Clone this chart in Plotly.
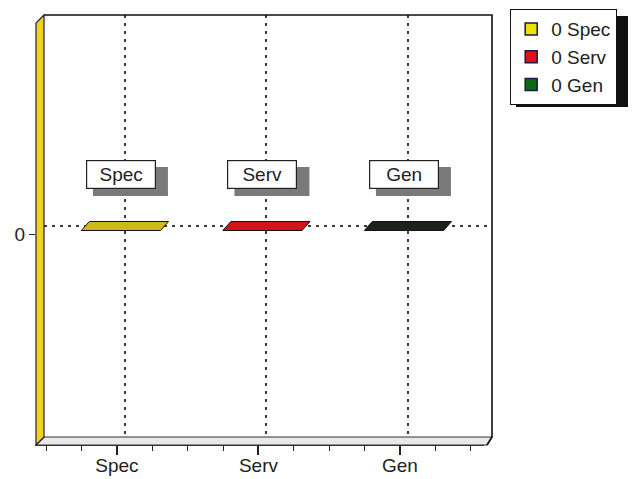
import plotly.graph_objects as go

# ---- data ----
categories = ["Spec", "Serv", "Gen"]
values = [0, 0, 0]
bar_colors = ["#cdb91c", "#d0141e", "#1c211c"]
legend_colors = ["#f2e200", "#e01010", "#0b6a14"]
y_tick_vals = [0]
y_tick_text = ["0"]

FONT = "Liberation Sans, Arial, sans-serif"

# geometry of the pseudo-3D frame (window pixels)
W, H = 636, 479
OX, OY = 8, 8                           # page body offset
L, R, T, B = 36, 492, 15, 445          # outer plot box (front-left corner .. back-right)
DEPTH = 8                               # 3D offset in px
pw, ph = R - L, B - T

xr = [-0.572, 2.594]
yr = [-1, 1]
ux = (pw - DEPTH) / (xr[1] - xr[0])     # px per x unit
uy = (ph - DEPTH) / (yr[1] - yr[0])     # px per y unit
dx = DEPTH / ux
dy = 9 / uy
hw = 0.28

fig = go.Figure()

# flat (zero-height) 3D bars: top faces drawn in data coordinates
for i, (c, v, col) in enumerate(zip(categories, values, bar_colors)):
    xs = [i - hw - dx / 2, i + hw - dx / 2, i + hw + dx / 2, i - hw + dx / 2, i - hw - dx / 2]
    ys = [v - dy / 2, v - dy / 2, v + dy / 2, v + dy / 2, v - dy / 2]
    fig.add_trace(go.Scatter(x=xs, y=ys, fill="toself", fillcolor=col, mode="lines",
                             line=dict(color="#111111", width=1), showlegend=False,
                             hoverinfo="skip", xaxis="x", yaxis="y"))

# legend entries (front axes)
for k, (c, v, col) in enumerate(zip(categories, values, legend_colors)):
    fig.add_trace(go.Scatter(x=[None], y=[None], mode="markers", name=f"{v:g} {c}",
                             marker=dict(symbol="square", size=12, color=col,
                                         line=dict(color="#1a1a4a", width=1.5)),
                             xaxis="x3" if k == 0 else "x2", yaxis="y2"))

def px(xp):
    return (xp - L) / pw

def py(yp):
    return (B - yp) / ph

shapes = []
# floor
shapes.append(dict(type="path", xref="paper", yref="paper", layer="below",
                   path=f"M {px(L)},{py(B)} L {px(L+DEPTH)},{py(B-DEPTH)} L {px(R)},{py(B-DEPTH)} L {px(R-DEPTH+3)},{py(B)} Z",
                   fillcolor="#e8e8e8", line=dict(color="#333333", width=1.2)))
# left wall (yellow)
shapes.append(dict(type="path", xref="paper", yref="paper", layer="above",
                   path=f"M {px(L)},{py(B)} L {px(L+DEPTH)},{py(B-DEPTH)} L {px(L+DEPTH)},{py(T)} L {px(L)},{py(T+DEPTH)} Z",
                   fillcolor="#f2d21e", line=dict(color="#1e1e40", width=1.2)))
# back plane border
shapes.append(dict(type="path", xref="paper", yref="paper", layer="above",
                   path=f"M {px(L+DEPTH)},{py(T)} L {px(R)},{py(T)} L {px(R)},{py(B-DEPTH)} L {px(R-DEPTH+3)},{py(B)}",
                   line=dict(color="#111111", width=1.6)))
# legend shadow
shapes.append(dict(type="rect", xref="paper", yref="paper", layer="above",
                   x0=px(516), x1=px(650), y0=py(107), y1=py(16),
                   fillcolor="#111111", line=dict(width=0)))
# label box shadows (pixel-sized, anchored at each bar)
for i, v in enumerate(values):
    shapes.append(dict(type="rect", xref="x", yref="y", layer="above",
                       xsizemode="pixel", ysizemode="pixel", xanchor=i, yanchor=v,
                       x0=-32, x1=43, y0=30, y1=59,
                       fillcolor="#7a7a7a", line=dict(width=0)))
fig.update_layout(shapes=shapes)

# label boxes
annotations = []
for i, (c, v) in enumerate(zip(categories, values)):
    annotations.append(dict(x=i, y=v, xref="x", yref="y", text=c, showarrow=False,
                            xshift=-4, yshift=52, width=62, height=21, borderpad=3,
                            bgcolor="white", bordercolor="#222222", borderwidth=1.2,
                            font=dict(family=FONT, size=19, color="#222222")))
fig.update_layout(annotations=annotations)

grid = dict(showgrid=True, gridcolor="#3a3a3a", gridwidth=1.5, griddash="3px,5px")
cat_idx = list(range(len(categories)))

fig.update_layout(
    width=W, height=H,
    margin=dict(l=L - OX, r=W - (R - OX), t=T - OY, b=H - (B - OY), pad=0,
                autoexpand=False),
    paper_bgcolor="white", plot_bgcolor="rgba(0,0,0,0)",
    font=dict(family=FONT, size=19, color="#222222"),
    xaxis=dict(domain=[DEPTH / pw, 1], range=xr, tickvals=cat_idx,
               showticklabels=False, ticks="", zeroline=False, showline=False,
               anchor="y", automargin=False, **grid),
    yaxis=dict(domain=[DEPTH / ph, 1], range=yr, tickvals=y_tick_vals,
               showticklabels=False, ticks="", zeroline=False, showline=False,
               anchor="x", automargin=False, **grid),
    # front floor axis: ticks only
    xaxis2=dict(domain=[0, 1 - DEPTH / pw], range=xr, anchor="y2",
                tickvals=cat_idx, showticklabels=False,
                ticks="outside", ticklen=9, tickwidth=1.8, tickcolor="#222222",
                minor=dict(ticks="outside", dtick=0.25, tick0=0, ticklen=5,
                           tickwidth=1.2, tickcolor="#222222", showgrid=False),
                showgrid=False, zeroline=False, showline=True, linecolor="#333333",
                linewidth=1.2, automargin=False),
    # front floor axis: category labels
    xaxis3=dict(overlaying="x2", range=xr, anchor="y2",
                tickvals=cat_idx, ticktext=categories,
                ticks="", ticklabelstandoff=7, showgrid=False, zeroline=False,
                showline=False, automargin=False, side="bottom",
                tickfont=dict(size=19, color="#222222")),
    yaxis2=dict(domain=[0, 1 - DEPTH / ph], range=yr, anchor="x2",
                tickvals=y_tick_vals, ticktext=y_tick_text,
                ticks="outside", ticklen=6, tickwidth=1.2, tickcolor="#222222",
                showgrid=False, zeroline=False, showline=False, automargin=False,
                tickfont=dict(size=19, color="#222222")),
    legend=dict(x=px(510), y=py(9), xanchor="left", yanchor="top",
                bgcolor="white", bordercolor="#111111", borderwidth=1.2,
                font=dict(family=FONT, size=19, color="#222222"),
                itemclick=False, itemdoubleclick=False),
    showlegend=True,
)

fig.write_html("out.html")
